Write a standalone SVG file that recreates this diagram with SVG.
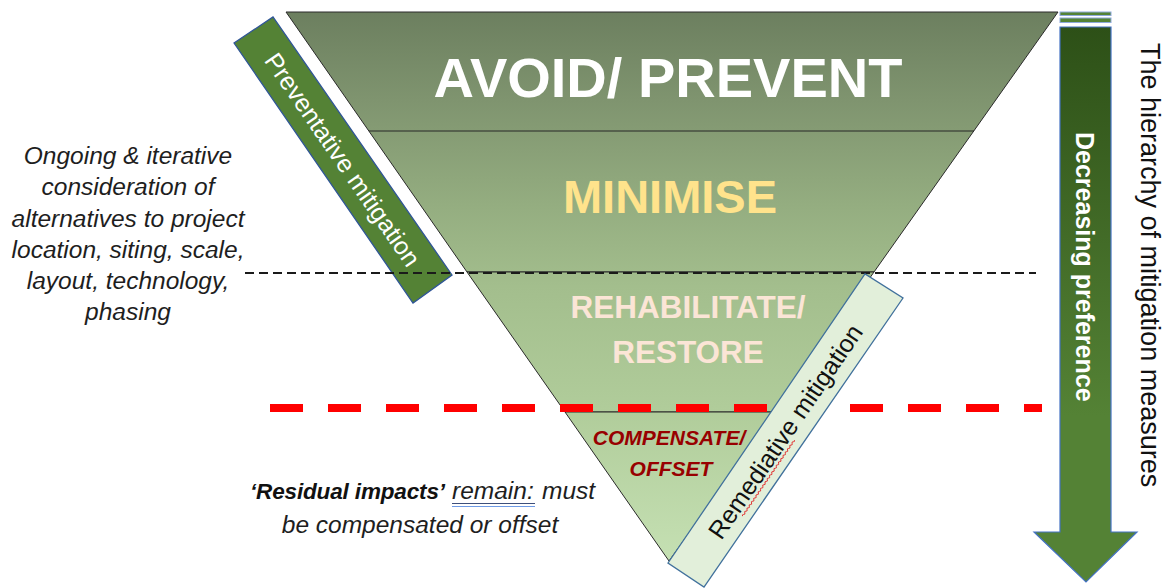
<svg xmlns="http://www.w3.org/2000/svg" width="1164" height="588" viewBox="0 0 1164 588">
  <defs>
    <linearGradient id="funnelFill" gradientUnits="userSpaceOnUse" x1="0" y1="12" x2="0" y2="561">
      <stop offset="0" stop-color="#6c7f5f"/>
      <stop offset="0.16" stop-color="#7f946f"/>
      <stop offset="0.35" stop-color="#94ad80"/>
      <stop offset="0.5" stop-color="#a3be8d"/>
      <stop offset="0.72" stop-color="#b0cc9a"/>
      <stop offset="1" stop-color="#c5e0b3"/>
    </linearGradient>
    <linearGradient id="arrowFill" gradientUnits="userSpaceOnUse" x1="0" y1="27" x2="0" y2="582">
      <stop offset="0" stop-color="#2d5017"/>
      <stop offset="0.7" stop-color="#548235"/>
      <stop offset="1" stop-color="#548235"/>
    </linearGradient>
    <style>
      text { font-family: "Liberation Sans", Arial, sans-serif; }
      .tier { fill: url(#funnelFill); stroke: #2a2a2a; stroke-width: 1; }
      .sep { stroke: #262626; stroke-width: 1.2; }
      .note { font-size: 24.5px; font-style: italic; fill: #1e1e1e; text-anchor: middle; }
      .bar-label { font-size: 25px; text-anchor: middle; }
      .heading { font-weight: bold; text-anchor: middle; }
    </style>
  </defs>

  <!-- funnel tiers -->
  <g id="avoid-minimise">
    <polygon class="tier" points="286,12 1058,12 874,272 467,272"/>
    <line class="sep" x1="369" y1="131" x2="974" y2="131"/>
    <text class="heading" x="668" y="97" font-size="56" fill="#ffffff">AVOID/ PREVENT</text>
    <text class="heading" x="670" y="213" font-size="47" fill="#ffe38c">MINIMISE</text>
  </g>
  <g id="rehabilitate">
    <polygon class="tier" points="467,272 874,272 775,412 565,412"/>
    <text class="heading" x="688" y="318" font-size="31.5" fill="#fbe5d6">REHABILITATE/</text>
    <text class="heading" x="688" y="363" font-size="31.5" fill="#fbe5d6">RESTORE</text>
  </g>
  <g id="compensate">
    <polygon class="tier" points="565,412 775,412 669,561"/>
    <text class="heading" x="669" y="445" font-size="21" font-style="italic" fill="#980000">COMPENSATE/</text>
    <text class="heading" x="671" y="476" font-size="21" font-style="italic" fill="#980000">OFFSET</text>
  </g>

  <!-- side band: preventative -->
  <g id="preventative">
    <polygon points="234,43 273,17 452,275 413,303" fill="#548235" stroke="#2f5597" stroke-width="1.3"/>
    <text class="bar-label" transform="translate(342,160) rotate(55.35)" y="8" fill="#ffffff">Preventative mitigation</text>
  </g>

  <!-- threshold lines -->
  <g id="dividers">
    <line x1="245" y1="273" x2="1036" y2="273" stroke="#1a1a1a" stroke-width="2" stroke-dasharray="9 5"/>
    <line x1="270" y1="408" x2="1042" y2="408" stroke="#ff0000" stroke-width="8" stroke-dasharray="33 25"/>
  </g>

  <!-- side band: remediative -->
  <g id="remediative">
    <polygon points="668,563 865,274 903,298 704,587" fill="#e2efda" stroke="#41719c" stroke-width="1.3"/>
    <g transform="translate(786,432) rotate(-55.7)">
      <text class="bar-label" y="8" fill="#111111">Remediative mitigation</text>
      <path d="M -94 11.5 q 1 -1.6 2 0 t 2 0 t 2 0 t 2 0 t 2 0 t 2 0 t 2 0 t 2 0 t 2 0 t 2 0 t 2 0 t 2 0 t 2 0 t 2 0 t 2 0 t 2 0 t 2 0 t 2 0 t 2 0 t 2 0 t 2 0 t 2 0 t 2 0 t 2 0 t 2 0 t 2 0 t 2 0 t 2 0 t 2 0 t 2 0 t 2 0 t 2 0 t 2 0 t 2 0 t 2 0 t 2 0 t 2 0 t 2 0 t 2 0 t 2 0 t 2 0 t 2 0 t 2 0 t 2 0 t 2 0 t 2 0" fill="none" stroke="#e03030" stroke-width="0.9"/>
    </g>
  </g>

  <!-- preference arrow -->
  <g id="preference-arrow">
    <rect x="1060" y="12" width="51" height="3.5" fill="#548235" stroke="#8faadc" stroke-width="1"/>
    <rect x="1060" y="18" width="51" height="4.5" fill="#548235" stroke="#8faadc" stroke-width="1"/>
    <polygon points="1060,27 1111,27 1111,532 1137,532 1086,582 1034,532 1060,532" fill="url(#arrowFill)" stroke="#4472c4" stroke-width="1.2"/>
    <text transform="translate(1076,132) rotate(90)" font-size="25" font-weight="bold" fill="#ffffff">Decreasing preference</text>
  </g>

  <g id="hierarchy-label">
    <text transform="translate(1141,43) rotate(90)" font-size="27" fill="#111111">The hierarchy of mitigation measures</text>
  </g>

  <!-- annotations -->
  <g id="alternatives-note">
    <text class="note" x="128" y="164">Ongoing &amp; iterative</text>
    <text class="note" x="128" y="195">consideration of</text>
    <text class="note" x="128" y="227">alternatives to project</text>
    <text class="note" x="128" y="258">location, siting, scale,</text>
    <text class="note" x="128" y="289">layout, technology,</text>
    <text class="note" x="128" y="320">phasing</text>
  </g>

  <g id="residual-note">
    <text x="250" y="499" font-size="22.5" font-weight="bold" font-style="italic" fill="#111111" textLength="195" lengthAdjust="spacing">‘Residual impacts’</text>
    <text x="452" y="499" font-size="24.5" font-style="italic" fill="#1e1e1e">remain:</text>
    <line x1="452" y1="503.5" x2="535" y2="503.5" stroke="#3d4f7c" stroke-width="1.2"/>
    <line x1="452" y1="506.5" x2="535" y2="506.5" stroke="#6f9be6" stroke-width="1.2"/>
    <text x="542" y="499" font-size="24.5" font-style="italic" fill="#1e1e1e">must</text>
    <text x="420" y="533" font-size="24.5" font-style="italic" fill="#1e1e1e" text-anchor="middle">be compensated or offset</text>
  </g>
</svg>
